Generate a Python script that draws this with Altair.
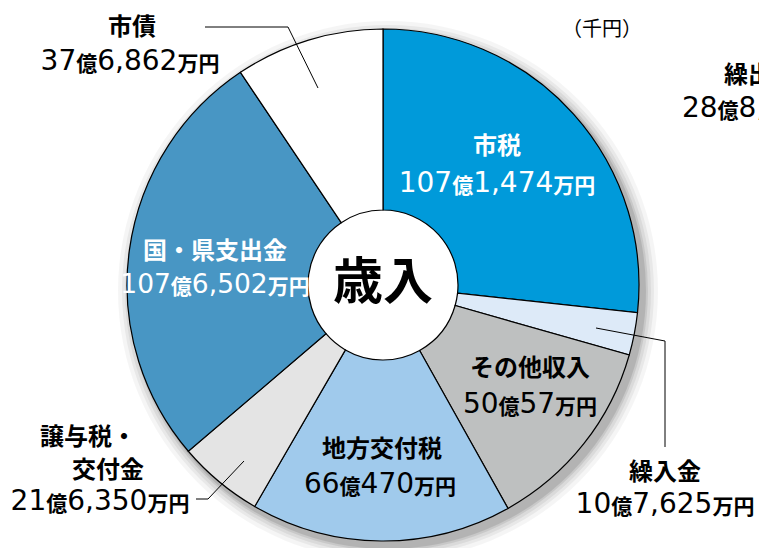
import altair as alt
import pandas as pd

# ---------------- data ----------------
categories = ["市税", "繰入金", "その他収入", "地方交付税", "譲与税・交付金", "国・県支出金", "市債"]
values_sen_yen = [10714740, 1076250, 5000570, 6604700, 2163500, 10765020, 3768620]
slice_colors = ["#009ADA", "#DDEAF8", "#BEC0C0", "#A0CAEC", "#E4E4E4", "#4896C4", "#FFFFFF"]
heading_lines = [["市税"], ["繰入金"], ["その他収入"], ["地方交付税"], ["譲与税・", "交付金"], ["国・県支出金"], ["市債"]]
label_colors = ["white", "black", "black", "black", "black", "white", "black"]
center_title = "歳入"
unit_note = "（千円）"
neighbour_heading = "繰出"
neighbour_amount = "28億8,"


def amount_text(v):
    oku = v // 100000
    man = (v % 100000) // 10
    return f"{oku}億{man:,}万円"


# ---------------- layout ----------------
CX, CY, R_OUT, R_IN = 383, 285, 256, 75
HEAD_SIZE = 24
KANJI_SIZE = 21

heading_pos = [
    [(497, 147, "center")],
    [(665, 473, "center")],
    [(530, 369, "center")],
    [(382, 450, "center")],
    [(40, 438, "left"), (72, 471, "left")],
    [(215, 252, "center")],
    [(132, 28, "center")],
]
amount_pos = [(497, 192), (665, 513), (530, 413), (380, 493), (100, 510), (215, 293), (130, 70)]
amount_digit_size = [28, 28, 28, 28, 28, 26.5, 28]

leader_segments = [
    (205, 27, 288, 27), (288, 27, 318, 88),
    (596, 328, 665, 341), (665, 341, 665, 447),
    (244, 461, 208, 499), (208, 499, 196, 499),
]

pie_df = pd.DataFrame({
    "category": categories,
    "value": values_sen_yen,
    "color": slice_colors,
    "order": list(range(len(categories))),
})


def runs(s):
    out = []
    for ch in s:
        kind = "d" if ch in "0123456789," else "k"
        if out and out[-1][0] == kind:
            out[-1][1] += ch
        else:
            out.append([kind, ch])
    return out


def run_width(kind, txt, dsize):
    if kind == "d":
        return sum((0.318 if c == "," else 0.636) for c in txt) * dsize
    return len(txt) * KANJI_SIZE


def segment_rows(s, x_start, base, color, dsize):
    rows = []
    x = x_start
    for kind, txt in runs(s):
        rows.append({"text": txt, "x": x, "y": base, "color": color, "kind": kind, "size": dsize})
        x += run_width(kind, txt, dsize)
    return rows


seg_rows = []
for i, v in enumerate(values_sen_yen):
    s = amount_text(v)
    ds = amount_digit_size[i]
    total = sum(run_width(k, t, ds) for k, t in runs(s))
    cx, base = amount_pos[i]
    seg_rows += segment_rows(s, cx - total / 2, base, label_colors[i], ds)
seg_rows += segment_rows(neighbour_amount, 682, 117, "black", 28)
seg_df = pd.DataFrame(seg_rows)

head_rows = []
for i, lines in enumerate(heading_lines):
    for line, (x, y, al) in zip(lines, heading_pos[i]):
        head_rows.append({"text": line, "x": x, "y": y, "align": al, "color": label_colors[i]})
head_rows.append({"text": neighbour_heading, "x": 724, "y": 76, "align": "left", "color": "black"})
head_df = pd.DataFrame(head_rows)

lines_df = pd.DataFrame(leader_segments, columns=["x", "y", "x2", "y2"])

# ---------------- marks ----------------
shadow_layers = []
for r, op in [(270, 0.04), (266, 0.05), (263, 0.06), (260, 0.08), (258, 0.10)]:
    shadow_layers.append(
        alt.Chart(pd.DataFrame({"v": [1]})).mark_arc(
            outerRadius=r, innerRadius=200, theta=0, theta2=6.2832,
            color="#000000", opacity=op, strokeWidth=0
        ).encode(x=alt.value(CX + 5), y=alt.value(CY + 6))
    )

pie = alt.Chart(pie_df).mark_arc(
    outerRadius=R_OUT, innerRadius=R_IN, stroke="black", strokeWidth=1.2
).encode(
    theta=alt.Theta("value:Q", stack=True),
    order=alt.Order("order:Q"),
    color=alt.Color("color:N", scale=None),
    x=alt.value(CX),
    y=alt.value(CY),
)

leaders = alt.Chart(lines_df).mark_rule(color="black", strokeWidth=1).encode(
    x=alt.X("x:Q", scale=None), y=alt.Y("y:Q", scale=None),
    x2="x2:Q", y2="y2:Q",
)


def head_layer(align):
    return alt.Chart(head_df).transform_filter(
        alt.datum.align == align
    ).mark_text(
        font="Noto Sans CJK JP", fontWeight="bold", fontSize=HEAD_SIZE,
        align=align, baseline="middle"
    ).encode(
        x=alt.X("x:Q", scale=None), y=alt.Y("y:Q", scale=None),
        text="text:N", color=alt.Color("color:N", scale=None),
    )


digits = alt.Chart(seg_df).transform_filter(alt.datum.kind == "d").mark_text(
    font="DejaVu Sans", align="left", baseline="alphabetic"
).encode(
    x=alt.X("x:Q", scale=None), y=alt.Y("y:Q", scale=None),
    size=alt.Size("size:Q", scale=None),
    text="text:N", color=alt.Color("color:N", scale=None),
)

kanji = alt.Chart(seg_df).transform_filter(alt.datum.kind == "k").mark_text(
    font="Noto Sans CJK JP", fontWeight="bold", fontSize=KANJI_SIZE, align="left", baseline="alphabetic", dy=1
).encode(
    x=alt.X("x:Q", scale=None), y=alt.Y("y:Q", scale=None),
    text="text:N", color=alt.Color("color:N", scale=None),
)

title = alt.Chart(pd.DataFrame({"t": [center_title]})).mark_text(
    font="Noto Sans CJK JP", fontWeight="bold", fontSize=50, align="center", baseline="middle", color="black"
).encode(text="t:N", x=alt.value(CX), y=alt.value(CY - 1))

unit = alt.Chart(pd.DataFrame({"t": [unit_note]})).mark_text(
    font="Noto Sans CJK JP", fontSize=20, align="center", baseline="middle", color="black"
).encode(text="t:N", x=alt.value(602), y=alt.value(30))

chart = alt.layer(
    *shadow_layers, pie, leaders, head_layer("center"), head_layer("left"),
    digits, kanji, title, unit
).properties(
    width=759, height=548, padding=0,
    autosize=alt.AutoSizeParams(type="none"),
).configure_view(stroke=None)

chart.save("out.html", embed_options={"renderer": "svg", "actions": False})
